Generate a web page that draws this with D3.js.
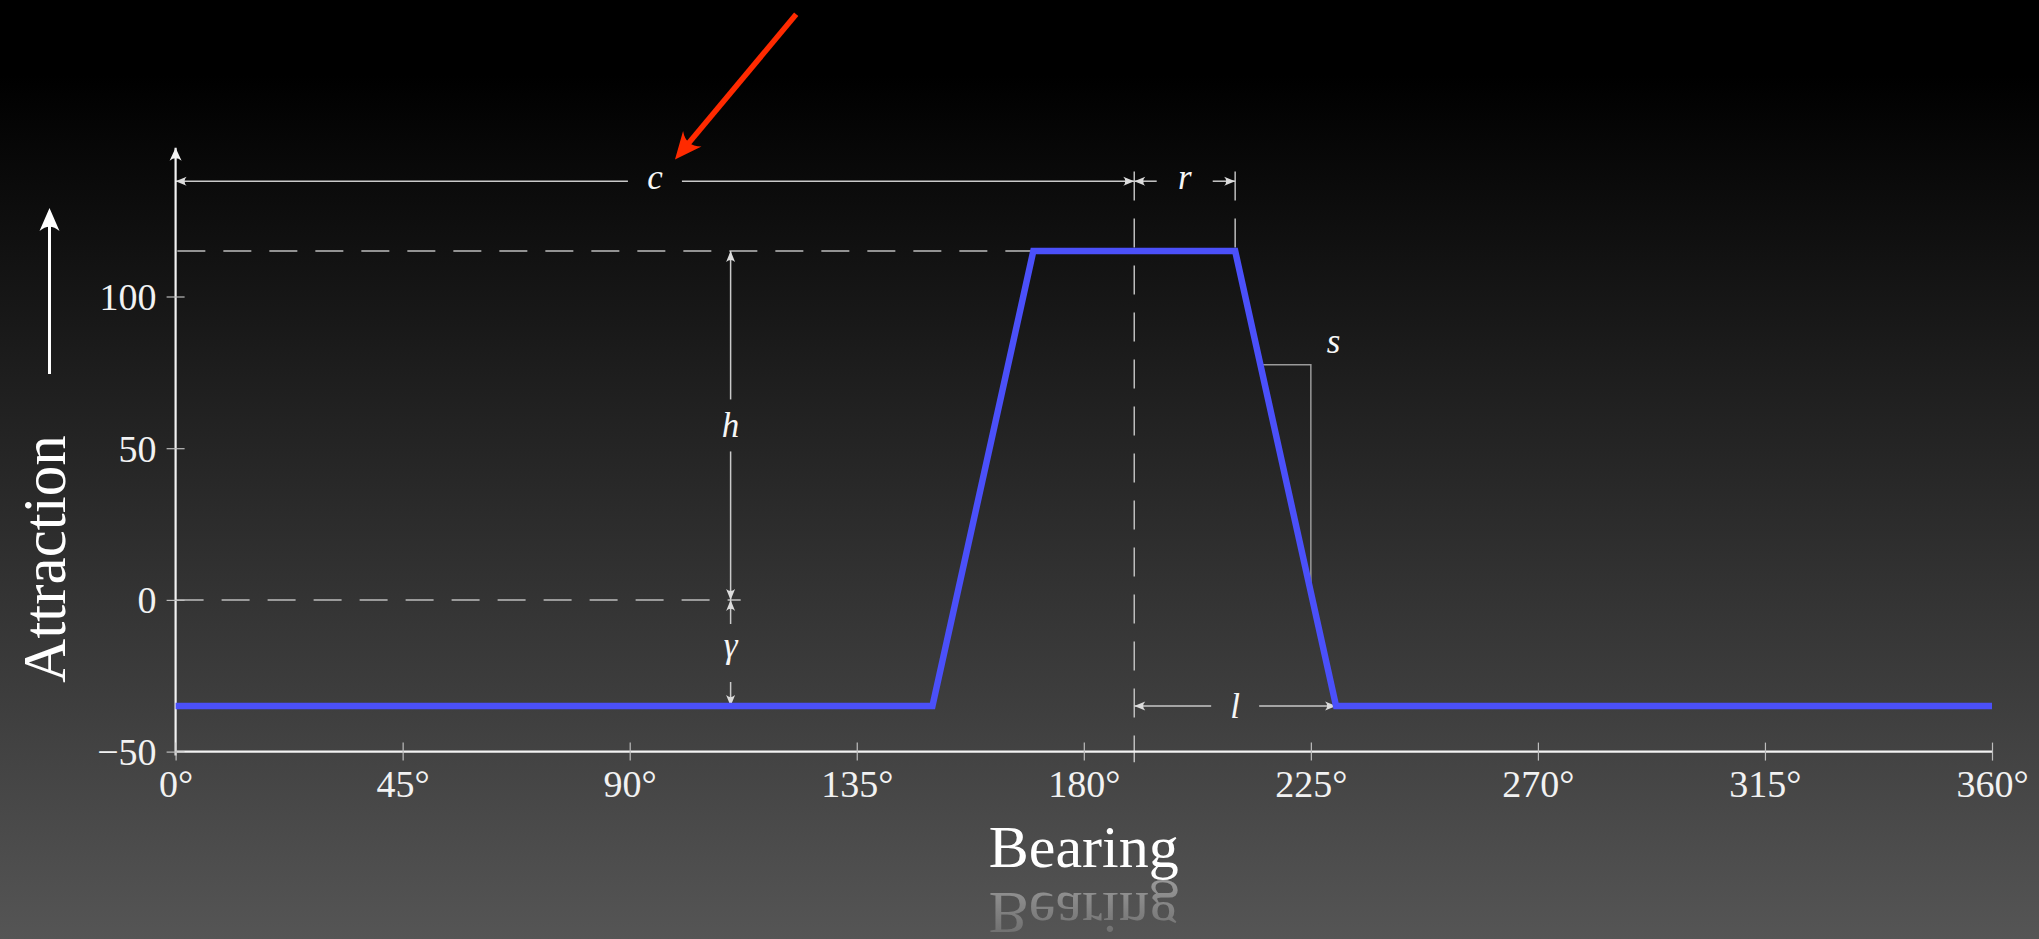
<!DOCTYPE html>
<html>
<head>
<meta charset="utf-8">
<script src="https://cdn.jsdelivr.net/npm/d3@7"></script>
<style>
  html, body { margin: 0; padding: 0; background: #000; }
  svg { display: block; }
</style>
</head>
<body>
<svg id="chart" width="2039" height="939"></svg>
<script>
// Trapezoidal attraction profile as a function of bearing
const bearing    = [0, 150, 170, 210, 230, 360];
const attraction = [-35, -35, 115, 115, -35, -35];

const xTickValues = [0, 45, 90, 135, 180, 225, 270, 315, 360];
const xTickLabels = ["0°", "45°", "90°", "135°", "180°", "225°", "270°", "315°", "360°"];
const yTickValues = [-50, 0, 50, 100];
const yTickLabels = ["\u221250", "0", "50", "100"];

// Annotation anchors (data units)
const cLevel      = 138;         // height of the c / r dimension line
const guideTop    = 141.2;       // top of the vertical guides
const guideBottom = -53.5;       // lower end of the centre guide
const hBearing    = 110;         // bearing of the h / gamma dimension
const zeroGuideTo = 112;         // end of the dashed zero line
const slopeRun    = [215, 225];  // horizontal run of the slope triangle
const sLabelAt    = [229.5, 84];
const pointerFrom = [123, 193];
const pointerTo   = [100.5, 148.2];

const W = 2039, H = 939;
const FONT = "'Liberation Serif', 'DejaVu Serif', serif";
const svg = d3.select("#chart");
const defs = svg.append("defs");

// Background: black at the top fading to grey
const bg = defs.append("linearGradient").attr("id", "bg")
  .attr("x1", 0).attr("y1", 0).attr("x2", 0).attr("y2", 1);
bg.append("stop").attr("offset", 0).attr("stop-color", "#000");
bg.append("stop").attr("offset", 0.08).attr("stop-color", "#000");
bg.append("stop").attr("offset", 1).attr("stop-color", "#555");
svg.append("rect").attr("width", W).attr("height", H).attr("fill", "url(#bg)");

// Stealth-style arrowheads; tip sits `back` px beyond the path end
function marker(id, len, half, color, back = 0) {
  defs.append("marker").attr("id", id)
    .attr("viewBox", `${-len - 2} ${-half - 2} ${len + back + 4} ${2 * half + 4}`)
    .attr("refX", -back).attr("refY", 0)
    .attr("markerWidth", len + back + 4).attr("markerHeight", 2 * half + 4)
    .attr("markerUnits", "userSpaceOnUse")
    .attr("orient", "auto")
    .append("path")
    .attr("d", `M0,0 L${-len},${-half} Q${-len * 0.62},0 ${-len},${half} Z`)
    .attr("fill", color);
}
marker("dim", 11, 4.5, "#dcdcdc");
marker("axisHead", 13, 6, "#f2f2f2");
marker("labelHead", 23, 10, "#ffffff", 8);
marker("redHead", 27, 12, "#ff2a00", 12);

const x = d3.scaleLinear().domain([0, 360]).range([175.6, 1992]);
const y = d3.scaleLinear().domain([-50, 100]).range([751.6, 296.5]);

const ann = svg.append("g").attr("class", "annotations");
const annCol = "#c9c9c9";

function seg(x1, y1, x2, y2, opts = {}) {
  const l = ann.append("line")
    .attr("x1", x1).attr("y1", y1).attr("x2", x2).attr("y2", y2)
    .attr("stroke", opts.color || annCol)
    .attr("stroke-width", opts.width || 1.5);
  if (opts.dash) l.attr("stroke-dasharray", opts.dash);
  if (opts.head) l.attr("marker-end", `url(#${opts.head})`);
  return l;
}
function mathLabel(px, py, txt, dy) {
  ann.append("text")
    .attr("x", px).attr("y", py).attr("dy", dy)
    .attr("text-anchor", "middle")
    .attr("font-family", FONT).attr("font-style", "italic")
    .attr("font-size", 35).attr("fill", "#f6f6f6")
    .text(txt);
}

const peak = d3.max(attraction);
const floor = d3.min(attraction);
const plateauStart = bearing[2], plateauEnd = bearing[3], footEnd = bearing[4];
const centre = (plateauStart + plateauEnd) / 2;
const fallingEdge = d3.scaleLinear().domain([plateauEnd, footEnd]).range([peak, floor]);

// Dashed guides
const dash = "28,18";
seg(x(plateauStart), y(peak), x(0), y(peak), { dash, color: "#bdbdbd" });
seg(x(0), y(0), x(zeroGuideTo), y(0), { dash, color: "#bdbdbd" });
seg(x(centre), y(guideTop), x(centre), y(guideBottom), { dash: "29,18", color: "#bdbdbd" });
seg(x(plateauEnd), y(guideTop), x(plateauEnd), y(peak), { dash: "29,18", color: "#bdbdbd" });

// c : distance from 0 to the centre
{
  const ly = y(cLevel), lx = x(centre / 2), g = 27;
  seg(lx - g, ly, x(0), ly, { head: "dim" });
  seg(lx + g, ly, x(centre), ly, { head: "dim" });
  mathLabel(lx, ly, "c", "0.23em");
}
// r : half-width of the plateau
{
  const ly = y(cLevel), lx = x((centre + plateauEnd) / 2), g = 28;
  seg(lx - g, ly, x(centre), ly, { head: "dim" });
  seg(lx + g, ly, x(plateauEnd), ly, { head: "dim" });
  mathLabel(lx, ly, "r", "0.23em");
}
// l : half-width of the foot
{
  const ly = y(floor), lx = x((centre + footEnd) / 2), g = 24;
  seg(lx - g, ly, x(centre), ly, { head: "dim" });
  seg(lx + g, ly, x(footEnd), ly, { head: "dim" });
  mathLabel(lx, ly, "l", "0.34em");
}
// h : height above zero
{
  const lx = x(hBearing), ly = y(peak / 2), g = 26;
  seg(lx, ly - g, lx, y(peak), { head: "dim" });
  seg(lx, ly + g, lx, y(0), { head: "dim" });
  mathLabel(lx, ly, "h", "0.34em");
}
// gamma : depth below zero
{
  const lx = x(hBearing), ly = y(floor / 2), g = 29;
  seg(lx, ly - g, lx, y(0), { head: "dim" });
  seg(lx, ly + g, lx, y(floor), { head: "dim" });
  mathLabel(lx, ly, "\u03b3", "0.12em");
}
// s : slope triangle on the falling edge
{
  const [a, b] = slopeRun;
  ann.append("path")
    .attr("d", `M${x(a)},${y(fallingEdge(a))} H${x(b)} V${y(fallingEdge(b))}`)
    .attr("fill", "none").attr("stroke", "#9a9a9a").attr("stroke-width", 1.5);
  mathLabel(x(sLabelAt[0]), y(sLabelAt[1]), "s", "0.23em");
}

// Axes
const axisY0 = y(-50);
svg.append("line")
  .attr("x1", x(0)).attr("y1", axisY0).attr("x2", x(360)).attr("y2", axisY0)
  .attr("stroke", "#f2f2f2").attr("stroke-width", 2.2);
svg.append("line")
  .attr("x1", x(0)).attr("y1", axisY0 + 4).attr("x2", x(0)).attr("y2", y(149))
  .attr("stroke", "#f2f2f2").attr("stroke-width", 2.2)
  .attr("marker-end", "url(#axisHead)");

const gx = svg.append("g").attr("transform", `translate(0,${axisY0})`)
  .call(d3.axisBottom(x).tickValues(xTickValues)
    .tickFormat((d, i) => xTickLabels[i]).tickSize(0));
gx.select(".domain").remove();
gx.attr("font-family", FONT).attr("font-size", 38);
gx.selectAll(".tick line").attr("y1", -9).attr("y2", 9)
  .attr("stroke", "#bdbdbd").attr("stroke-width", 1.2);
gx.selectAll(".tick text").attr("y", 45).attr("dy", 0).attr("fill", "#f2f2f2");

const gy = svg.append("g").attr("transform", `translate(${x(0)},0)`)
  .call(d3.axisLeft(y).tickValues(yTickValues)
    .tickFormat((d, i) => yTickLabels[i]).tickSize(0));
gy.select(".domain").remove();
gy.attr("font-family", FONT).attr("font-size", 38);
gy.selectAll(".tick line").attr("x1", -9).attr("x2", 9)
  .attr("stroke", "#bdbdbd").attr("stroke-width", 1.2);
gy.selectAll(".tick text").attr("x", -19).attr("dy", "0.34em").attr("fill", "#f2f2f2");

// Attraction profile
const line = d3.line().x((d, i) => x(bearing[i])).y(d => y(d));
svg.append("path")
  .datum(attraction)
  .attr("d", line)
  .attr("fill", "none")
  .attr("stroke", "#4b50fa")
  .attr("stroke-width", 6.5)
  .attr("stroke-linejoin", "miter");

// Red pointer towards c
svg.append("line")
  .attr("x1", x(pointerFrom[0])).attr("y1", y(pointerFrom[1]))
  .attr("x2", x(pointerTo[0])).attr("y2", y(pointerTo[1]))
  .attr("stroke", "#ff2a00").attr("stroke-width", 5.5)
  .attr("marker-end", "url(#redHead)");

// Axis titles
svg.append("text")
  .attr("x", x(180)).attr("y", 867)
  .attr("text-anchor", "middle")
  .attr("font-family", FONT).attr("font-size", 60).attr("fill", "#ffffff")
  .text("Bearing");

// Mirrored, fading copy of the x title
const fade = defs.append("linearGradient").attr("id", "fadeGrad")
  .attr("gradientUnits", "userSpaceOnUse")
  .attr("x1", 0).attr("y1", 880).attr("x2", 0).attr("y2", 939);
fade.append("stop").attr("offset", 0).attr("stop-color", "#fff").attr("stop-opacity", 0.42);
fade.append("stop").attr("offset", 1).attr("stop-color", "#fff").attr("stop-opacity", 0.14);
defs.append("mask").attr("id", "fadeMask")
  .attr("maskUnits", "userSpaceOnUse").attr("x", 0).attr("y", 0).attr("width", W).attr("height", H)
  .append("rect").attr("x", 0).attr("y", 880).attr("width", W).attr("height", 60)
  .attr("fill", "url(#fadeGrad)");
svg.append("g").attr("mask", "url(#fadeMask)")
  .append("g").attr("transform", `translate(0,${2 * 880}) scale(1,-1)`)
  .append("text")
  .attr("x", x(180)).attr("y", 867)
  .attr("text-anchor", "middle")
  .attr("font-family", FONT).attr("font-size", 60).attr("fill", "#ffffff")
  .text("Bearing");

svg.append("text")
  .attr("transform", "translate(65,559) rotate(-90)")
  .attr("text-anchor", "middle")
  .attr("font-family", FONT).attr("font-size", 61).attr("fill", "#ffffff")
  .text("Attraction");
svg.append("line")
  .attr("x1", 49.5).attr("y1", 374).attr("x2", 49.5).attr("y2", 216)
  .attr("stroke", "#ffffff").attr("stroke-width", 3)
  .attr("marker-end", "url(#labelHead)");
</script>
</body>
</html>
